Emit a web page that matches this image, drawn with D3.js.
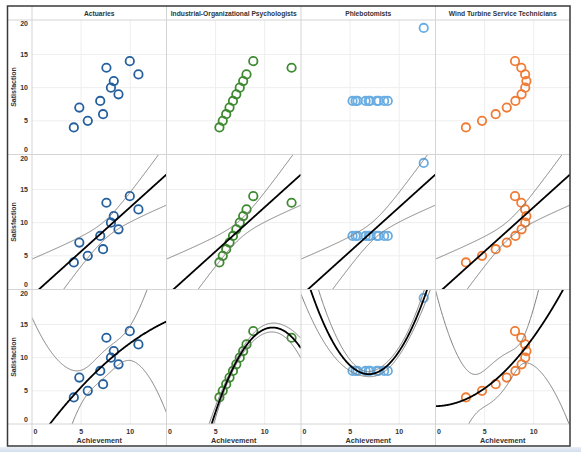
<!DOCTYPE html>
<meta charset="utf-8">
<style>
body { margin: 0; background: #fff; }
text { font-family: Arial, "Liberation Sans", sans-serif; fill: #333; }
.grid line { stroke: #eeeeee; stroke-width: 1px; }
.divider { stroke: #d4d4d4; stroke-width: 1px; }
.band { fill: none; stroke: #7d7d7d; stroke-width: 1px; }
.fit { fill: none; stroke: #000; stroke-width: 1.8px; }
.dot { fill: none; stroke-width: 1.8px; }
</style>
<body>
<script src="https://d3js.org/d3.v7.min.js"></script>
<script>

// Values
const occupations = ["Actuaries", "Industrial-Organizational Psychologists", "Phlebotomists", "Wind Turbine Service Technicians"]
const colors = ["#25609e", "#3e8a31", "#6aade2", "#ef7b35"]
const satisfaction = [
  [10, 8, 13, 9, 11, 14, 6, 4, 12, 7, 5],
  [10, 8, 13, 9, 11, 14, 6, 4, 12, 7, 5],
  [8, 8, 8, 8, 8, 8, 8, 19, 8, 8, 8],
  [10, 8, 13, 9, 11, 14, 6, 4, 12, 7, 5]
]
const achievement = [
  [8.04, 6.95, 7.58, 8.81, 8.33, 9.96, 7.24, 4.26, 10.84, 4.82, 5.68],
  [7.46, 6.77, 12.74, 7.11, 7.81, 8.84, 6.08, 5.39, 8.15, 6.42, 5.73],
  [6.58, 5.76, 7.71, 8.84, 8.47, 7.04, 5.25, 12.50, 5.56, 7.91, 6.89],
  [9.14, 8.14, 8.74, 8.77, 9.26, 8.10, 6.13, 3.10, 9.13, 7.26, 4.74]
]
// trend per row: 0 = none, 1 = linear, 2 = polynomial
const trendDegrees = [0, 1, 2]
const yTicks = [0, 5, 10, 15, 20]
const xTicks = [0, 5, 10]
// 95% two-sided t values by degrees of freedom
const tCrit = { 6: 2.447, 7: 2.365, 8: 2.306, 9: 2.262 }

const width = 581
const height = 452

// layout
const frame = { left: 7.5, top: 6, right: 570, bottom: 446 }
const plotLeft = 32
const colW = (frame.right - plotLeft) / 4
const headerH = 14
const rowTop = r => 20 + r * 135
const rowH = 134
const axisTop = rowTop(2) + rowH

const x = d3.scaleLinear().domain([0, 13.7]).range([0, colW])
const y = d3.scaleLinear().domain([0, 20.2]).range([rowH, 0])

const svg = d3.select("body").append("svg")
  .attr("width", width)
  .attr("height", height)

svg.append("rect").attr("width", width).attr("height", height).attr("fill", "#fff")

// strip at the bottom of the screenshot
const grad = svg.append("defs").append("linearGradient")
  .attr("id", "strip").attr("x1", 0).attr("x2", 0).attr("y1", 0).attr("y2", 1)
grad.append("stop").attr("offset", 0).attr("stop-color", "#e9eef6")
grad.append("stop").attr("offset", 1).attr("stop-color", "#d3deee")
svg.append("rect").attr("x", 0).attr("y", frame.bottom + 1).attr("width", width)
  .attr("height", height - frame.bottom - 1).attr("fill", "url(#strip)")

// least squares polynomial with 95% band of the mean
function invert(m) {
  const n = m.length
  const a = m.map((row, i) => row.concat(d3.range(n).map(j => (i === j ? 1 : 0))))
  for (let c = 0; c < n; c++) {
    let p = c
    for (let r = c + 1; r < n; r++) if (Math.abs(a[r][c]) > Math.abs(a[p][c])) p = r
    ;[a[c], a[p]] = [a[p], a[c]]
    const piv = a[c][c]
    for (let j = 0; j < 2 * n; j++) a[c][j] /= piv
    for (let r = 0; r < n; r++) {
      if (r === c) continue
      const f = a[r][c]
      for (let j = 0; j < 2 * n; j++) a[r][j] -= f * a[c][j]
    }
  }
  return a.map(row => row.slice(n))
}

function polyFit(xs, ys, deg) {
  const p = deg + 1
  const n = xs.length
  const basis = v => d3.range(p).map(k => v ** k)
  const X = xs.map(basis)
  const XtX = d3.range(p).map(i => d3.range(p).map(j => d3.sum(X, r => r[i] * r[j])))
  const Xty = d3.range(p).map(i => d3.sum(X, (r, k) => r[i] * ys[k]))
  const inv = invert(XtX)
  const beta = inv.map(row => d3.sum(row, (v, j) => v * Xty[j]))
  const pred = v => d3.sum(basis(v), (b, k) => b * beta[k])
  const sse = d3.sum(xs, (v, i) => (ys[i] - pred(v)) ** 2)
  const s = Math.sqrt(sse / (n - p))
  const t = tCrit[n - p]
  const half = v => {
    const b = basis(v)
    return t * s * Math.sqrt(d3.sum(b, (bi, i) => bi * d3.sum(b, (bj, j) => bj * inv[i][j])))
  }
  return { pred, half }
}

const samples = d3.range(0, 13.7001, 0.04)
const line = d3.line().x(d => x(d[0])).y(d => y(d[1]))

// panes
trendDegrees.forEach((deg, r) => {
  occupations.forEach((occ, c) => {
    const g = svg.append("g")
      .attr("transform", `translate(${plotLeft + c * colW},${rowTop(r)})`)

    const clipId = `clip-${r}-${c}`
    g.append("clipPath").attr("id", clipId)
      .append("rect").attr("width", colW).attr("height", rowH)

    const grid = g.append("g").attr("class", "grid")
    grid.selectAll(".gx").data([5, 10]).join("line")
      .attr("x1", d => x(d)).attr("x2", d => x(d)).attr("y1", 0).attr("y2", rowH)
    grid.selectAll(".gy").data([5, 10, 15]).join("line")
      .attr("class", "gy")
      .attr("x1", 0).attr("x2", colW).attr("y1", d => y(d)).attr("y2", d => y(d))

    const plot = g.append("g").attr("clip-path", `url(#${clipId})`)

    plot.selectAll("circle")
      .data(achievement[c].map((a, i) => [a, satisfaction[c][i]]))
      .join("circle")
      .attr("class", "dot")
      .attr("cx", d => x(d[0]))
      .attr("cy", d => y(d[1]))
      .attr("r", 4.2)
      .attr("stroke", colors[c])

    if (deg > 0) {
      const fit = polyFit(achievement[c], satisfaction[c], deg)
      const upper = samples.map(v => [v, fit.pred(v) + fit.half(v)])
      const lower = samples.map(v => [v, fit.pred(v) - fit.half(v)])
      const mid = samples.map(v => [v, fit.pred(v)])
      plot.append("path").attr("class", "band").attr("d", line(upper))
      plot.append("path").attr("class", "band").attr("d", line(lower))
      plot.append("path").attr("class", "fit").attr("d", line(mid))
    }
  })

  // y axis for the row
  const top = rowTop(r)
  svg.append("g").selectAll("text").data(yTicks).join("text")
    .attr("x", 28)
    .attr("y", d => top + Math.min(Math.max(y(d), 3.5), rowH - 4))
    .attr("dy", "0.35em")
    .attr("text-anchor", "end")
    .attr("font-size", 7)
    .attr("font-weight", "bold")
    .text(d => d)

  svg.append("text")
    .attr("transform", `translate(16,${top + rowH / 2}) rotate(-90)`)
    .attr("text-anchor", "middle")
    .attr("font-size", 7)
    .attr("font-weight", "bold")
    .text("Satisfaction")
})

// column headers
svg.append("g").selectAll("text").data(occupations).join("text")
  .attr("x", (d, i) => plotLeft + (i + 0.5) * colW)
  .attr("y", frame.top + headerH / 2 + 0.5)
  .attr("dy", "0.35em")
  .attr("text-anchor", "middle")
  .attr("font-size", 6.7)
  .attr("font-weight", "bold")
  .text(d => d)

// x axes
occupations.forEach((occ, c) => {
  const left = plotLeft + c * colW
  svg.append("g").selectAll("text").data(xTicks).join("text")
    .attr("x", d => left + Math.max(x(d), 1.5))
    .attr("y", axisTop + 8)
    .attr("dy", "0.35em")
    .attr("text-anchor", d => (d === 0 ? "start" : "middle"))
    .attr("font-size", 7)
    .attr("font-weight", "bold")
    .text(d => d)
  svg.append("text")
    .attr("x", left + colW / 2)
    .attr("y", axisTop + 16.5)
    .attr("dy", "0.35em")
    .attr("text-anchor", "middle")
    .attr("font-size", 7.3)
    .attr("font-weight", "bold")
    .text("Achievement")
})

// dividers
const lines = svg.append("g").attr("class", "divider")
d3.range(4).forEach(c => {
  const xx = plotLeft + c * colW
  lines.append("line").attr("x1", xx).attr("x2", xx).attr("y1", frame.top).attr("y2", frame.bottom)
})
;[frame.top + headerH, rowTop(1) - 0.5, rowTop(2) - 0.5, axisTop].forEach(yy => {
  lines.append("line").attr("x1", frame.left).attr("x2", frame.right).attr("y1", yy).attr("y2", yy)
})

// outer frame
svg.append("rect")
  .attr("x", frame.left).attr("y", frame.top)
  .attr("width", frame.right - frame.left).attr("height", frame.bottom - frame.top)
  .attr("fill", "none").attr("stroke", "#3a3a3a").attr("stroke-width", 1.5)

</script>
</body>
</html>
